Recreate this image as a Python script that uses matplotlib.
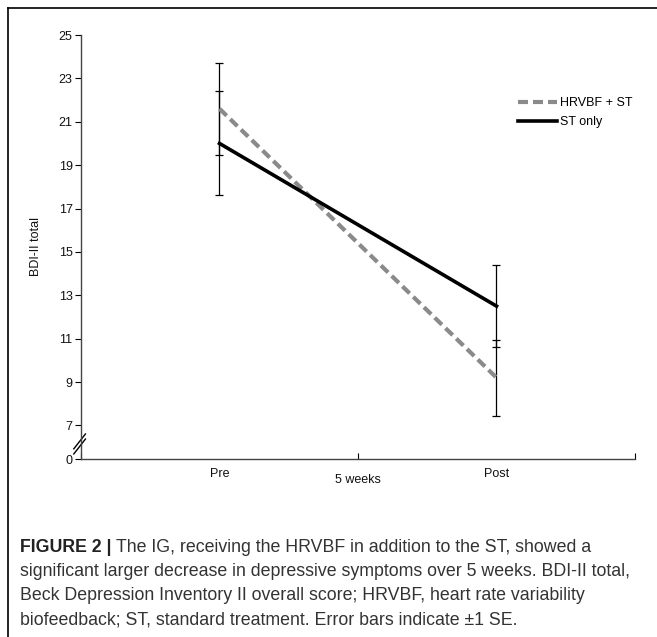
import matplotlib
matplotlib.use("Agg")
import matplotlib.pyplot as plt
from matplotlib.lines import Line2D

# ---- data ----
timepoints = ["Pre", "Post"]
hrvbf_mean = [21.6, 9.2]
hrvbf_se = [2.13, 1.75]
st_mean = [20.0, 12.5]
st_se = [2.4, 1.9]
y_ticks = [7, 9, 11, 13, 15, 17, 19, 21, 23, 25]
series_labels = ["HRVBF + ST", "ST only"]
ylabel = "BDI-II total"
mid_label = "5 weeks"

W, H = 657, 637
plt.rcParams['font.family'] = ['Liberation Sans', 'DejaVu Sans']
fig = plt.figure(figsize=(W / 100, H / 100), dpi=100)

# axes in pixel coords
ax_l, ax_r, ax_t, ax_b = 81, 635, 35, 459
ax = fig.add_axes([ax_l / W, 1 - ax_b / H, (ax_r - ax_l) / W, (ax_b - ax_t) / H])

# broken axis: position used for "0"
zero_pos = 7 - 1.55

dash = (0, (2.4, 1.2))
x = list(range(len(timepoints)))
ax.errorbar(x, hrvbf_mean, yerr=hrvbf_se, fmt='none', ecolor='black', elinewidth=0.9,
            capsize=3, capthick=0.9, zorder=2)
ax.errorbar(x, st_mean, yerr=st_se, fmt='none', ecolor='black', elinewidth=0.9,
            capsize=3, capthick=0.9, zorder=2)
ax.plot(x, hrvbf_mean, color='#8a8a8a', lw=3, ls=dash, zorder=3)
ax.plot(x, st_mean, color='black', lw=2.6, zorder=4)

ax.set_xlim(-0.5, 1.5)
ax.set_ylim(zero_pos, 25)
ax.set_yticks([zero_pos] + y_ticks)
ax.set_yticklabels(["0"] + [str(v) for v in y_ticks], fontsize=9, color='#111111')
ax.set_xticks([-0.5, 0.5, 1.5])
ax.set_xticklabels([])
ax.tick_params(axis='y', length=4, width=0.8, pad=2)
ax.tick_params(axis='x', length=4, width=0.8, direction='in')
for i, lab in enumerate(timepoints):
    ax.text(x[i], -0.022, lab, transform=ax.get_xaxis_transform(), ha='center', va='top',
            fontsize=9, color='#111111')
ax.text(0.5, -0.036, mid_label, transform=ax.get_xaxis_transform(), ha='center', va='top',
        fontsize=9, color='#111111')

for s in ['top', 'right']:
    ax.spines[s].set_visible(False)
for s in ['left', 'bottom']:
    ax.spines[s].set_color('#444444')
    ax.spines[s].set_linewidth(1.0)

ax.set_ylabel(ylabel, fontsize=9, labelpad=12, color='#111111')

# break marks
for dy in (0, 0.012):
    ax.plot([-0.013, 0.008], [0.012 + dy, 0.047 + dy], transform=ax.transAxes,
            color='black', lw=1.0, clip_on=False)

# legend
handles = [Line2D([], [], color='#8a8a8a', lw=3, ls=dash),
           Line2D([], [], color='black', lw=2.6)]
leg = ax.legend(handles, series_labels, loc='upper left',
                bbox_to_anchor=(518 / W, 1 - 97 / H), bbox_transform=fig.transFigure,
                frameon=False, fontsize=9, handlelength=3.1, handletextpad=0.3,
                labelspacing=0.55, borderpad=0, borderaxespad=0)

# outer border (top and left)
fig.add_artist(Line2D([8 / W, 8 / W], [0, 1 - 8 / H], color='black', lw=1.2))
fig.add_artist(Line2D([8 / W, 1], [1 - 8 / H, 1 - 8 / H], color='black', lw=1.2))

# caption
cap_lines = [
    "The IG, receiving the HRVBF in addition to the ST, showed a",
    "significant larger decrease in depressive symptoms over 5 weeks. BDI-II total,",
    "Beck Depression Inventory II overall score; HRVBF, heart rate variability",
    "biofeedback; ST, standard treatment. Error bars indicate \u00b11 SE.",
]
cap_fs = 12.8
y0 = 548
t = fig.text(20 / W, 1 - y0 / H, "FIGURE 2 |", fontsize=cap_fs, fontweight='bold',
             va='center', ha='left', color='#222222')
fig.canvas.draw()
bb = t.get_window_extent()
fig.text((bb.x1 + 4) / W, 1 - y0 / H, cap_lines[0], fontsize=cap_fs, va='center',
         ha='left', color='#333333')
for i, line in enumerate(cap_lines[1:], start=1):
    fig.text(20 / W, 1 - (y0 + 24 * i) / H, line, fontsize=cap_fs, va='center',
             ha='left', color='#333333')

fig.savefig("out.png", dpi=100)
